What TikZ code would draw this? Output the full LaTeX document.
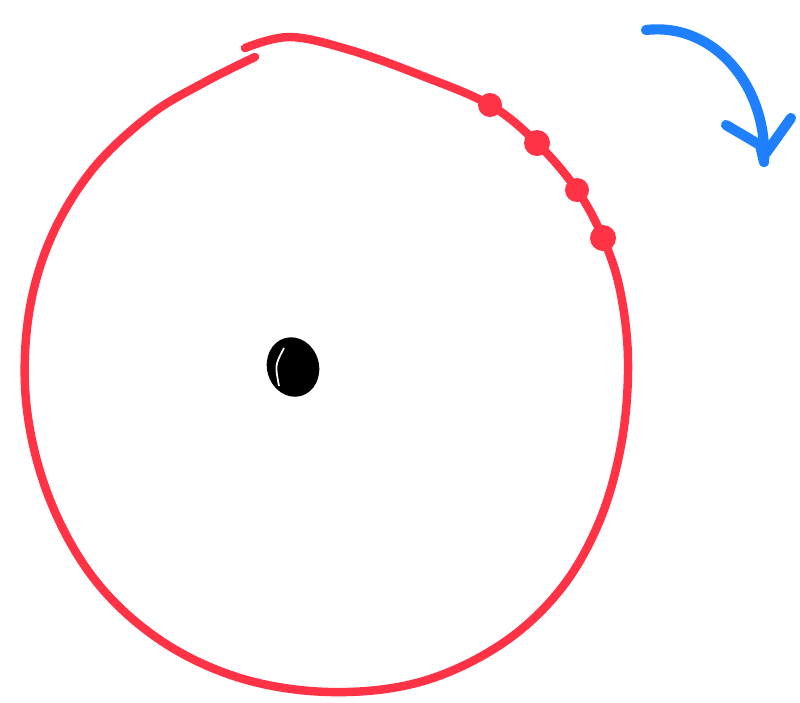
\documentclass[tikz,border=0pt]{standalone}
\definecolor{penred}{HTML}{FF3246}
\definecolor{penblue}{HTML}{1E80FF}
\begin{document}
\begin{tikzpicture}[x=0.01cm,y=-0.01cm,
  redline/.style={penred,line width=2.4pt,line cap=round,line join=round},
  blueline/.style={penblue,line width=2.9pt,line cap=round,line join=round}]
\useasboundingbox (0,0) rectangle (800,702);
% orbit
\draw[redline] plot[smooth,tension=0.6] coordinates {(245,48) (290,37) (350,50) (420,75) (490,105) (537,143) (577,190) (603,238) (620,290) (628,360) (622,440) (600,520) (560,590) (500,645) (420,682) (330,692) (240,678) (160,640) (95,580) (50,500) (27,410) (28,320) (50,240) (92,170) (150,115) (205,82) (255,57)};
% points on the orbit
\fill[penred] (490,105) circle (12);
\fill[penred] (537,143) circle (13);
\fill[penred] (577,190) circle (12);
\fill[penred] (603,238) circle (13);
% centre
\fill[rotate around={15:(293,367)}] (293,367) ellipse (26 and 30);
\draw[white,line width=0.5pt] (284,348) .. controls (275,365) .. (279,386);
% direction of rotation
\draw[blueline] (646,30) .. controls (715,22) and (768,88) .. (764,162);
\draw[blueline] (726,125) -- (760,145) -- (764,162);
\draw[blueline] (791,118) -- (766,153);
\end{tikzpicture}
\end{document}
